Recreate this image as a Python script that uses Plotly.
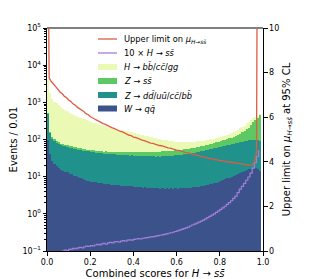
import plotly.graph_objects as go

# ---------------- data ----------------
bin_width = 0.01
bin_centers = [round(0.005 + bin_width * i, 3) for i in range(99)]
limit_x = [round(bin_width * i, 2) for i in range(99)]

w_qq = [100, 41, 27, 22.5, 18.8, 17.2, 15.4, 14.6, 13.5, 13.1,
        12.0, 11.7, 10.7, 10.4, 9.5, 9.2, 8.6, 8.3, 7.8, 7.8,
        7.3, 7.25, 7.0, 6.9, 6.7, 6.65, 6.45, 6.4, 6.2, 6.15,
        5.95, 6.0, 5.8, 5.85, 5.65, 5.7, 5.55, 5.55, 5.45, 5.45,
        5.3, 5.35, 5.2, 5.25, 5.1, 5.15, 5.0, 5.05, 4.9, 4.95,
        4.85, 4.9, 4.8, 4.85, 4.75, 4.85, 4.7, 4.85, 4.75, 4.85,
        4.8, 4.9, 4.85, 5.0, 4.95, 5.1, 5.05, 5.2, 5.2, 5.4,
        5.4, 5.65, 5.7, 5.95, 6.05, 6.35, 6.45, 6.8, 6.95, 7.4,
        7.65, 8.15, 8.45, 9.0, 9.3, 10.0, 10.4, 11.2, 11.7, 12.6,
        13.2, 14.2, 14.9, 15.9, 16.5, 17.2, 16.9, 16.1, 14.0]

z_udcb = [400, 112, 82, 74, 65, 62, 56, 56, 53.5, 52.5,
          50, 49.5, 47, 47, 45, 45, 43, 43, 41.5, 41.3,
          39.7, 39.6, 38.4, 38.3, 37.1, 37.0, 35.9, 35.9, 34.9, 35.0,
          34.1, 34.2, 33.3, 33.5, 32.7, 32.9, 32.1, 32.3, 31.6, 31.8,
          31.1, 31.4, 30.8, 31.0, 30.4, 30.7, 30.2, 30.5, 30.0, 30.3,
          29.9, 30.3, 30.0, 30.5, 30.3, 30.9, 30.8, 31.5, 31.5, 32.3,
          32.4, 33.4, 33.6, 34.7, 35.0, 36.2, 36.7, 38.0, 38.6, 40.0,
          40.7, 42.3, 43.1, 44.8, 45.8, 47.6, 48.7, 50.6, 51.8, 53.8,
          55.0, 57.1, 58.4, 60.5, 61.8, 64.0, 65.4, 67.7, 69.2, 71.4,
          72.8, 75.0, 76.3, 78.2, 79.3, 80.7, 80.6, 79.2, 75.3]

z_ss = [30, 10, 7, 6, 5.5, 5, 4.8, 4.6, 4.5, 4.4,
        4.3, 4.3, 4.2, 4.2, 4.2, 4.2, 4.3, 4.3, 4.4, 4.4,
        4.5, 4.6, 4.7, 4.8, 4.9, 5.0, 5.2, 5.4, 5.6, 5.8,
        6.0, 6.3, 6.6, 6.9, 7.2, 7.6, 8.0, 8.4, 8.8, 9.2,
        9.5, 9.8, 10.1, 10.4, 10.6, 10.8, 11.0, 11.2, 11.4, 11.6,
        11.8, 12.0, 12.2, 12.4, 12.6, 12.8, 13.0, 13.2, 13.4, 13.6,
        13.8, 14.0, 14.3, 14.6, 14.9, 15.2, 15.6, 16.0, 16.4, 16.9,
        17.4, 18.0, 18.7, 19.5, 20.4, 21.4, 22.5, 23.7, 25.0, 26.5,
        28, 29.7, 31.5, 33.5, 36, 39, 43, 48, 54, 61,
        70, 82, 96, 113, 150, 195, 240, 300, 380]

h_bbccgg = [3470, 1590, 1133, 949, 850, 747, 673, 606, 548, 501,
            463, 425, 393, 369, 346, 327, 309, 290, 274, 259,
            246, 234, 223, 212, 203, 195, 186, 178, 170, 163,
            157, 151, 145, 139, 133, 128, 123, 118, 113, 108,
            103, 98, 94, 89, 85, 81, 77, 72.5, 68.5, 64.4,
            61.2, 58, 54.8, 51.5, 48.1, 45.7, 43.3, 40.7, 39.1, 37.5,
            35.8, 34, 33, 32, 30.9, 29.8, 28.4, 28, 27.5, 27,
            26.3, 26.3, 26.3, 26, 25.5, 24.9, 25.1, 25.2, 26, 26.5,
            27.1, 28.3, 29.4, 31.3, 33.6, 37.3, 41, 45.4, 49.8, 53.3,
            55.7, 64, 82.5, 93, 94, 82, 62, 25, 10]

h_ss_x10 = [0.05, 0.055, 0.06, 0.07, 0.075, 0.085, 0.095, 0.1, 0.105, 0.102,
            0.11, 0.112, 0.118, 0.115, 0.122, 0.125, 0.122, 0.13, 0.135, 0.132,
            0.14, 0.137, 0.145, 0.15, 0.146, 0.155, 0.16, 0.152, 0.165, 0.17,
            0.165, 0.175, 0.18, 0.172, 0.185, 0.19, 0.183, 0.195, 0.2, 0.195,
            0.205, 0.21, 0.215, 0.21, 0.22, 0.225, 0.23, 0.235, 0.24, 0.245,
            0.25, 0.26, 0.265, 0.27, 0.28, 0.29, 0.3, 0.31, 0.32, 0.335,
            0.35, 0.365, 0.38, 0.4, 0.42, 0.44, 0.47, 0.5, 0.53, 0.56,
            0.6, 0.64, 0.68, 0.73, 0.79, 0.85, 0.92, 1.0, 1.1, 1.2,
            1.32, 1.45, 1.6, 1.8, 2.0, 2.25, 2.6, 3.0, 3.7, 4.6,
            5.5, 6.6, 8.0, 9.8, 12.5, 17, 24, 35, 52]

mu_limit = [20, 7.75, 7.6, 7.5, 7.36, 7.26, 7.13, 7.06, 6.94, 6.88,
            6.77, 6.71, 6.6, 6.55, 6.45, 6.39, 6.3, 6.26, 6.16, 6.12,
            6.03, 5.99, 5.92, 5.87, 5.81, 5.77, 5.71, 5.68, 5.62, 5.59,
            5.53, 5.5, 5.45, 5.42, 5.36, 5.34, 5.28, 5.25, 5.19, 5.17,
            5.11, 5.09, 5.04, 5.02, 4.97, 4.95, 4.91, 4.89, 4.84, 4.83,
            4.79, 4.77, 4.73, 4.72, 4.68, 4.66, 4.62, 4.61, 4.57, 4.56,
            4.52, 4.51, 4.47, 4.46, 4.42, 4.41, 4.37, 4.36, 4.32, 4.31,
            4.27, 4.26, 4.22, 4.21, 4.18, 4.17, 4.13, 4.13, 4.09, 4.09,
            4.05, 4.05, 4.02, 4.02, 3.99, 3.99, 3.96, 3.96, 3.93, 3.93,
            3.9, 3.9, 3.87, 3.85, 3.84, 3.86, 3.98, 4.4, 30]

x_ticks = [0.0, 0.2, 0.4, 0.6, 0.8, 1.0]
y_ticks = [0.1, 1, 10, 100, 1000, 10000, 100000]
y_ticktext = ["10<sup>\u22121</sup>", "10<sup>0</sup>", "10<sup>1</sup>", "10<sup>2</sup>",
              "10<sup>3</sup>", "10<sup>4</sup>", "10<sup>5</sup>"]
y2_ticks = [0, 2, 4, 6, 8, 10]

# ---------------- styles ----------------
C_W = "#3b528b"
C_ZUD = "#21918c"
C_ZSS = "#5ec962"
C_HBB = "#eafab4"
C_RED = "#e15a47"
C_PUR = "#a27fd6"

FONT = "DejaVu Sans"

lbl_red = "Upper limit on <i>\u03bc</i><sub><i>H</i>\u2192<i>ss\u0304</i></sub>"
lbl_pur = "10 \u00d7 <i>H</i> \u2192 <i>ss\u0304</i>"
lbl_hbb = "<i>H</i> \u2192 <i>bb\u0304</i>/<i>cc\u0304</i>/<i>gg</i>"
lbl_zss = "<i>Z</i> \u2192 <i>ss\u0304</i>"
lbl_zud = "<i>Z</i> \u2192 <i>dd\u0304</i>/<i>uu\u0304</i>/<i>cc\u0304</i>/<i>bb\u0304</i>"
lbl_w = "<i>W</i> \u2192 <i>qq\u0304</i>"

fig = go.Figure()
for vals, col, name in [(w_qq, C_W, lbl_w), (z_udcb, C_ZUD, lbl_zud),
                        (z_ss, C_ZSS, lbl_zss), (h_bbccgg, C_HBB, lbl_hbb)]:
    fig.add_trace(go.Bar(x=bin_centers, y=vals, width=bin_width, marker_color=col,
                         marker_line_width=0, name=name, showlegend=False))

fig.add_trace(go.Scatter(x=limit_x, y=h_ss_x10, mode="lines", line_shape="hv",
                         line=dict(color=C_PUR, width=1.2), showlegend=False))
fig.add_trace(go.Scatter(x=limit_x, y=mu_limit, mode="lines", yaxis="y2",
                         line=dict(color=C_RED, width=1.3), showlegend=False))

# ---------------- layout geometry (page has an 8px body margin) ----------------
OFF = 8
FIG_W, FIG_H = 310 - OFF, 279 - OFF
L, R, T, B = 47 - OFF, 263 - OFF, 28 - OFF, 251 - OFF
W, H = R - L, B - T

def px(x):
    return (x - OFF - L) / W

def py(y):
    return (B - (y - OFF)) / H

# ---------------- manual legend ----------------
legend_rows = [("line", C_RED, lbl_red), ("line", C_PUR, lbl_pur),
               ("rect", C_HBB, lbl_hbb), ("rect", C_ZSS, lbl_zss),
               ("rect", C_ZUD, lbl_zud), ("rect", C_W, lbl_w)]
row_y = [39, 53, 67, 81, 95, 108.5]
shapes = []
annotations = []
for (kind, col, txt), yy in zip(legend_rows, row_y):
    if kind == "line":
        shapes.append(dict(type="line", xref="paper", yref="paper", x0=px(98), x1=px(117),
                           y0=py(yy), y1=py(yy), line=dict(color=col, width=1.3)))
    else:
        shapes.append(dict(type="rect", xref="paper", yref="paper", x0=px(98), x1=px(117),
                           y0=py(yy + 3), y1=py(yy - 3), fillcolor=col, line=dict(width=0)))
    annotations.append(dict(xref="paper", yref="paper", x=px(122), y=py(yy), text=txt,
                            showarrow=False, xanchor="left", yanchor="middle",
                            font=dict(family=FONT, size=8.3, color="black")))
# top spine
shapes.append(dict(type="line", xref="paper", yref="paper", x0=0, x1=1, y0=1, y1=1,
                   line=dict(color="#808080", width=2)))

fig.update_layout(
    width=FIG_W, height=FIG_H, template="none",
    margin=dict(l=L, r=FIG_W - R, t=T, b=FIG_H - B, pad=0),
    barmode="stack", bargap=0,
    plot_bgcolor="white", paper_bgcolor="white",
    font=dict(family=FONT, size=8, color="black"),
    showlegend=False,
    shapes=shapes, annotations=annotations,
    xaxis=dict(range=[0, 1], tickvals=x_ticks, ticktext=[f"{v:.1f}" for v in x_ticks],
               ticks="outside", ticklen=3.5, tickwidth=0.8, tickcolor="black",
               showline=True, linecolor="black", linewidth=1, showgrid=False, zeroline=False,
               automargin=False, tickfont=dict(size=8),
               title=dict(text="Combined scores for <i>H</i> \u2192 <i>ss\u0304</i>",
                          font=dict(size=10), standoff=6)),
    yaxis=dict(type="log", range=[-1, 5], tickvals=y_ticks, ticktext=y_ticktext,
               ticks="outside", ticklen=3.5, tickwidth=0.8, tickcolor="black",
               minor=dict(tickvals=[k * 10 ** e for e in range(-1, 5) for k in range(2, 10)],
                          ticks="outside", ticklen=2, tickwidth=0.6, tickcolor="black"),
               showline=True, linecolor="black", linewidth=1, showgrid=False, zeroline=False,
               automargin=False, tickfont=dict(size=8),
               title=dict(text="Events / 0.01", font=dict(size=10), standoff=4)),
    yaxis2=dict(overlaying="y", side="right", range=[0, 10], tickvals=y2_ticks,
                ticks="outside", ticklen=3.5, tickwidth=0.8, tickcolor="black",
                showline=True, linecolor="black", linewidth=1, showgrid=False, zeroline=False,
                automargin=False, tickfont=dict(size=8),
                title=dict(text="Upper limit on <i>\u03bc</i><sub><i>H</i>\u2192<i>ss\u0304</i></sub> at 95% CL",
                           font=dict(size=10), standoff=4)),
)

fig.write_html("out.html")
